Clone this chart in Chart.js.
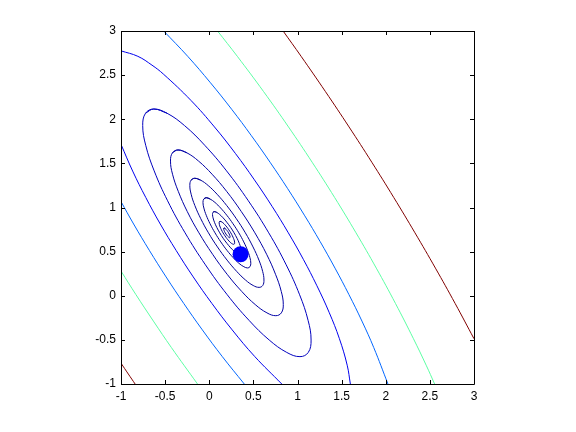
<!DOCTYPE html>
<html>
<head>
<meta charset="utf-8">
<script src="https://cdn.jsdelivr.net/npm/chart.js@4/dist/chart.umd.min.js"></script>
<style>
html,body{margin:0;padding:0;background:#fff;}
#c{display:block;}
</style>
</head>
<body>
<canvas id="c" width="576" height="432"></canvas>
<script>
// Tick values / labels
const xTickValues = [-1, -0.5, 0, 0.5, 1, 1.5, 2, 2.5, 3];
const yTickValues = [-1, -0.5, 0, 0.5, 1, 1.5, 2, 2.5, 3];
const xTickLabels = ['-1', '-0.5', '0', '0.5', '1', '1.5', '2', '2.5', '3'];
const yTickLabels = ['-1', '-0.5', '0', '0.5', '1', '1.5', '2', '2.5', '3'];

// Marker point
const markerPoint = [[0.355, 0.47]];

// Closed contour ellipses, outermost first
const ellipse1 = [[-0.628,2.116],[-0.478,2.068],[-0.280,1.928],[-0.051,1.705],[0.196,1.415],[0.443,1.076],[0.674,0.713],[0.872,0.350],[1.024,0.011],[1.120,-0.279],[1.154,-0.502],[1.122,-0.642],[1.028,-0.690],[0.878,-0.642],[0.680,-0.502],[0.451,-0.279],[0.204,0.011],[-0.043,0.350],[-0.274,0.713],[-0.472,1.076],[-0.624,1.415],[-0.720,1.705],[-0.754,1.928],[-0.722,2.068]];
const ellipse2 = [[-0.354,1.652],[-0.254,1.620],[-0.121,1.526],[0.032,1.377],[0.197,1.183],[0.362,0.956],[0.517,0.713],[0.650,0.470],[0.751,0.243],[0.816,0.049],[0.839,-0.100],[0.817,-0.194],[0.754,-0.226],[0.654,-0.194],[0.521,-0.100],[0.368,0.049],[0.203,0.243],[0.038,0.470],[-0.117,0.713],[-0.250,0.956],[-0.351,1.183],[-0.416,1.377],[-0.439,1.526],[-0.417,1.620]];
const ellipse3 = [[-0.165,1.331],[-0.098,1.310],[-0.011,1.248],[0.089,1.150],[0.198,1.022],[0.307,0.873],[0.409,0.713],[0.496,0.553],[0.563,0.404],[0.605,0.276],[0.620,0.178],[0.606,0.116],[0.565,0.095],[0.498,0.116],[0.411,0.178],[0.311,0.276],[0.202,0.404],[0.093,0.553],[-0.009,0.713],[-0.096,0.873],[-0.163,1.022],[-0.205,1.150],[-0.220,1.248],[-0.206,1.310]];
const ellipse4 = [[-0.035,1.111],[0.008,1.097],[0.064,1.058],[0.129,0.994],[0.199,0.912],[0.269,0.816],[0.335,0.713],[0.391,0.610],[0.434,0.514],[0.461,0.432],[0.471,0.368],[0.461,0.329],[0.435,0.315],[0.392,0.329],[0.336,0.368],[0.271,0.432],[0.201,0.514],[0.131,0.610],[0.065,0.713],[0.009,0.816],[-0.034,0.912],[-0.061,0.994],[-0.071,1.058],[-0.061,1.097]];
const ellipse5 = [[0.058,0.953],[0.084,0.945],[0.118,0.921],[0.157,0.883],[0.199,0.833],[0.242,0.775],[0.281,0.713],[0.315,0.651],[0.341,0.593],[0.357,0.543],[0.363,0.505],[0.358,0.481],[0.342,0.473],[0.316,0.481],[0.282,0.505],[0.243,0.543],[0.201,0.593],[0.158,0.651],[0.119,0.713],[0.085,0.775],[0.059,0.833],[0.043,0.883],[0.037,0.921],[0.042,0.945]];
const ellipse6 = [[0.123,0.843],[0.137,0.839],[0.156,0.826],[0.177,0.805],[0.200,0.778],[0.222,0.747],[0.244,0.713],[0.262,0.679],[0.276,0.648],[0.285,0.621],[0.288,0.600],[0.285,0.587],[0.277,0.583],[0.263,0.587],[0.244,0.600],[0.223,0.621],[0.200,0.648],[0.178,0.679],[0.156,0.713],[0.138,0.747],[0.124,0.778],[0.115,0.805],[0.112,0.826],[0.115,0.839]];
const ellipse7 = [[0.168,0.768],[0.181,0.761],[0.200,0.741],[0.219,0.713],[0.232,0.685],[0.237,0.665],[0.232,0.658],[0.219,0.665],[0.200,0.685],[0.181,0.713],[0.168,0.741],[0.163,0.761]];

// Open contours (cut by the axes box)
const blueUpper = [[-1.0,2.775],[-0.809,2.713],[-0.649,2.613],[-0.521,2.513],[-0.207,2.213],[0.059,1.913],[0.296,1.613],[0.512,1.313],[0.712,1.013],[0.896,0.713],[1.066,0.413],[1.220,0.113],[1.358,-0.187],[1.475,-0.487],[1.563,-0.787],[1.599,-1.0]];
const blueLower = [[-0.999,1.713],[-0.868,1.413],[-0.719,1.113],[-0.555,0.813],[-0.375,0.513],[-0.181,0.213],[0.030,-0.087],[0.260,-0.387],[0.514,-0.687],[0.822,-1.0]];
const lightBlueUpper = [[-0.516,3.0],[-0.244,2.713],[0.014,2.413],[0.254,2.113],[0.478,1.813],[0.689,1.513],[0.889,1.213],[1.078,0.913],[1.257,0.613],[1.425,0.313],[1.583,0.013],[1.730,-0.287],[1.864,-0.587],[2.025,-1.0]];
const lightBlueLower = [[-1.0,1.067],[-0.857,0.813],[-0.678,0.513],[-0.489,0.213],[-0.289,-0.087],[-0.078,-0.387],[0.146,-0.687],[0.397,-1.0]];
const greenUpper = [[0.094,3.0],[0.318,2.713],[0.616,2.313],[0.898,1.913],[1.166,1.513],[1.421,1.113],[1.663,0.713],[1.893,0.313],[2.110,-0.087],[2.314,-0.487],[2.458,-0.787],[2.554,-1.0]];
const greenLower = [[-1.0,0.280],[-0.831,0.013],[-0.633,-0.287],[-0.429,-0.587],[-0.133,-1.0]];
const redUpper = [[0.837,3.0],[1.041,2.713],[1.317,2.313],[1.584,1.913],[1.842,1.513],[2.091,1.113],[2.331,0.713],[2.563,0.313],[2.786,-0.087],[3.0,-0.487]];
const redLower = [[-1.0,-0.764],[-0.917,-0.887],[-0.840,-1.0]];

const toXY = a => a.map(p => ({x: p[0], y: p[1]}));
const closed = a => toXY([a[a.length - 1], ...a, a[0], a[1]]);

function lineSet(data, color) {
  return {data, showLine: true, borderColor: color, borderWidth: 1, pointRadius: 0,
          pointHoverRadius: 0, tension: 0.4, fill: false};
}

const datasets = [
  {data: toXY(markerPoint), showLine: false, pointRadius: 8, pointHoverRadius: 8,
   backgroundColor: '#0000ff', borderColor: '#0000ff', borderWidth: 0},
  lineSet(closed(ellipse7), '#000083'),
  lineSet(closed(ellipse6), '#000086'),
  lineSet(closed(ellipse5), '#00008a'),
  lineSet(closed(ellipse4), '#00008f'),
  lineSet(closed(ellipse3), '#000098'),
  lineSet(closed(ellipse2), '#0000a6'),
  lineSet(closed(ellipse1), '#0000bf'),
  lineSet(toXY(blueUpper), '#0000ee'),
  lineSet(toXY(blueLower), '#0000ee'),
  lineSet(toXY(lightBlueUpper), '#0066ff'),
  lineSet(toXY(lightBlueLower), '#0066ff'),
  lineSet(toXY(greenUpper), '#5cffa3'),
  lineSet(toXY(greenLower), '#5cffa3'),
  lineSet(toXY(redUpper), '#800000'),
  lineSet(toXY(redLower), '#800000')
];

const boxPlugin = {
  id: 'boxTicks',
  afterDraw(chart) {
    const ctx = chart.ctx;
    const a = chart.chartArea;
    const xs = chart.scales.x, ys = chart.scales.y;
    const L = 4;
    ctx.save();
    ctx.strokeStyle = '#000';
    ctx.lineWidth = 1;
    ctx.beginPath();
    ctx.rect(Math.round(a.left) + 0.5, Math.round(a.top) + 0.5,
             Math.round(a.right - a.left), Math.round(a.bottom - a.top));
    xTickValues.forEach(v => {
      const px = Math.round(xs.getPixelForValue(v)) + 0.5;
      ctx.moveTo(px, a.bottom); ctx.lineTo(px, a.bottom - L);
      ctx.moveTo(px, a.top); ctx.lineTo(px, a.top + L);
    });
    yTickValues.forEach(v => {
      const py = Math.round(ys.getPixelForValue(v)) + 0.5;
      ctx.moveTo(a.left, py); ctx.lineTo(a.left + L, py);
      ctx.moveTo(a.right, py); ctx.lineTo(a.right - L, py);
    });
    ctx.stroke();
    ctx.restore();
  }
};

const tickFont = {family: '"Liberation Sans", Arial, Helvetica, sans-serif', size: 12};

new Chart(document.getElementById('c'), {
  type: 'scatter',
  data: {datasets},
  options: {
    responsive: false,
    animation: false,
    devicePixelRatio: 1,
    layout: {padding: {left: 0, right: 102, top: 31, bottom: 0}},
    plugins: {legend: {display: false}, tooltip: {enabled: false}},
    events: [],
    scales: {
      x: {
        type: 'linear', min: -1, max: 3,
        afterBuildTicks: s => { s.ticks = xTickValues.map(v => ({value: v})); },
        afterFit: s => { s.height = 48; },
        ticks: {color: '#000', font: tickFont, padding: 5, maxRotation: 0, autoSkip: false,
                callback: (v) => xTickLabels[xTickValues.indexOf(v)]},
        grid: {display: true, drawOnChartArea: false, drawTicks: false},
        border: {display: false}
      },
      y: {
        type: 'linear', min: -1, max: 3,
        afterBuildTicks: s => { s.ticks = yTickValues.map(v => ({value: v})); },
        afterFit: s => { s.width = 121; },
        ticks: {color: '#000', font: tickFont, padding: 5, autoSkip: false,
                callback: (v) => yTickLabels[yTickValues.indexOf(v)]},
        grid: {display: true, drawOnChartArea: false, drawTicks: false},
        border: {display: false}
      }
    }
  },
  plugins: [boxPlugin]
});
</script>
</body>
</html>
